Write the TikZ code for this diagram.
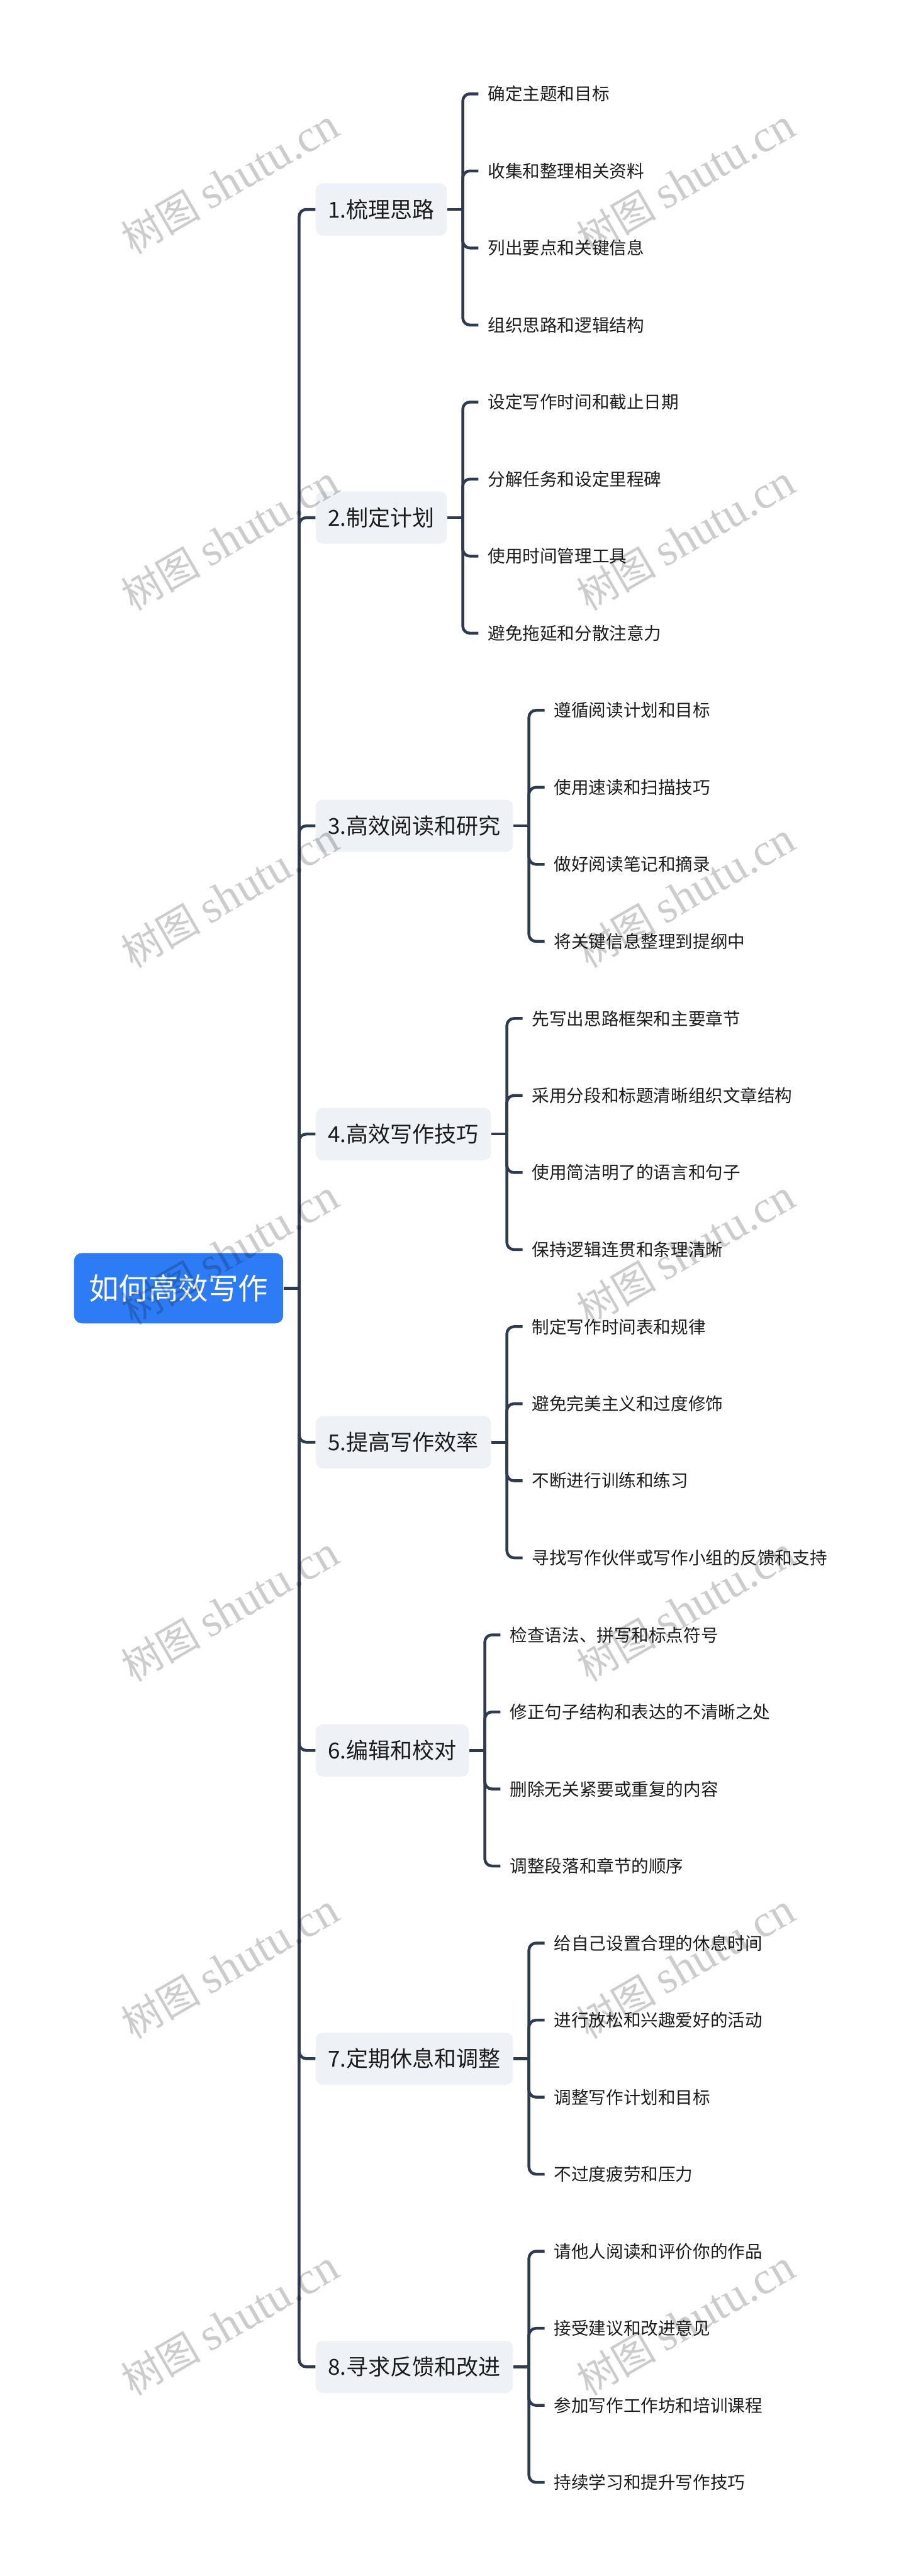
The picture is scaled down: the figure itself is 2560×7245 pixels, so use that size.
\documentclass[tikz,border=0pt]{standalone}
\usepackage{fontspec}
\setmainfont{Noto Sans CJK SC}
\newfontfamily\markserif{Liberation Serif}
\usetikzlibrary{positioning}
\definecolor{wire}{RGB}{46,58,78}
\definecolor{topicbg}{RGB}{238,241,245}
\definecolor{rootblue}{RGB}{45,124,246}
\definecolor{ink}{RGB}{28,28,28}
\tikzset{
  rootbox/.style={fill=rootblue,text=white,rounded corners=5.5pt,inner xsep=10.5pt,minimum height=49.5pt,font=\fontsize{21pt}{24pt}\selectfont},
  topicbox/.style={fill=topicbg,text=ink,rounded corners=5pt,inner xsep=8.6pt,minimum height=36.8pt,font=\fontsize{15.5pt}{18pt}\selectfont},
  leafnode/.style={text=ink,inner xsep=6.5pt,inner ysep=2pt,font=\fontsize{12.2pt}{14pt}\selectfont},
  wirepath/.style={draw=wire,line width=2pt,rounded corners=5pt},
  stamp/.style={rotate=30,text=black,opacity=.2,font=\fontsize{28pt}{30pt}\selectfont}
}
\begin{document}
\begin{tikzpicture}[x=.25pt,y=-.25pt]
\useasboundingbox (0,0) rectangle (2560,7245);
\node[rootbox,anchor=east] (root) at (797,3623) {如何高效写作};
\coordinate (trunk) at (841,3623);
\draw[wirepath] (root.east) -- (trunk);
\foreach \t/\items [count=\k from 0] in {
  {1.梳理思路}/{确定主题和目标,收集和整理相关资料,列出要点和关键信息,组织思路和逻辑结构},
  {2.制定计划}/{设定写作时间和截止日期,分解任务和设定里程碑,使用时间管理工具,避免拖延和分散注意力},
  {3.高效阅读和研究}/{遵循阅读计划和目标,使用速读和扫描技巧,做好阅读笔记和摘录,将关键信息整理到提纲中},
  {4.高效写作技巧}/{先写出思路框架和主要章节,采用分段和标题清晰组织文章结构,使用简洁明了的语言和句子,保持逻辑连贯和条理清晰},
  {5.提高写作效率}/{制定写作时间表和规律,避免完美主义和过度修饰,不断进行训练和练习,寻找写作伙伴或写作小组的反馈和支持},
  {6.编辑和校对}/{检查语法、拼写和标点符号,修正句子结构和表达的不清晰之处,删除无关紧要或重复的内容,调整段落和章节的顺序},
  {7.定期休息和调整}/{给自己设置合理的休息时间,进行放松和兴趣爱好的活动,调整写作计划和目标,不过度疲劳和压力},
  {8.寻求反馈和改进}/{请他人阅读和评价你的作品,接受建议和改进意见,参加写作工作坊和培训课程,持续学习和提升写作技巧}} {
  \pgfmathsetmacro\ty{264+216.7*(4*\k+1.5)}
  \node[topicbox,anchor=west] (t\k) at (887,\ty) {\t};
  \draw[wirepath] (trunk) |- (t\k.west);
  \path (t\k.east) ++(44,0) coordinate (b\k) ++(44,0) coordinate (s\k);
  \draw[wirepath] (t\k.east) -- (b\k);
  \foreach \s [count=\j from 0] in \items {
    \pgfmathsetmacro\ly{264+216.7*(4*\k+\j)}
    \node[leafnode,anchor=west] (l\k-\j) at (s\k |- 0,\ly) {\s};
    \draw[wirepath] (b\k) |- (l\k-\j.west);
  }
}
% watermark
\foreach \r in {0,...,6}
  \foreach \c in {647,1928}
    \node[stamp] at (\c,{510+1004*\r}) {树图\ {\markserif\fontsize{32pt}{34pt}\selectfont shutu.cn}};
\end{tikzpicture}
\end{document}
